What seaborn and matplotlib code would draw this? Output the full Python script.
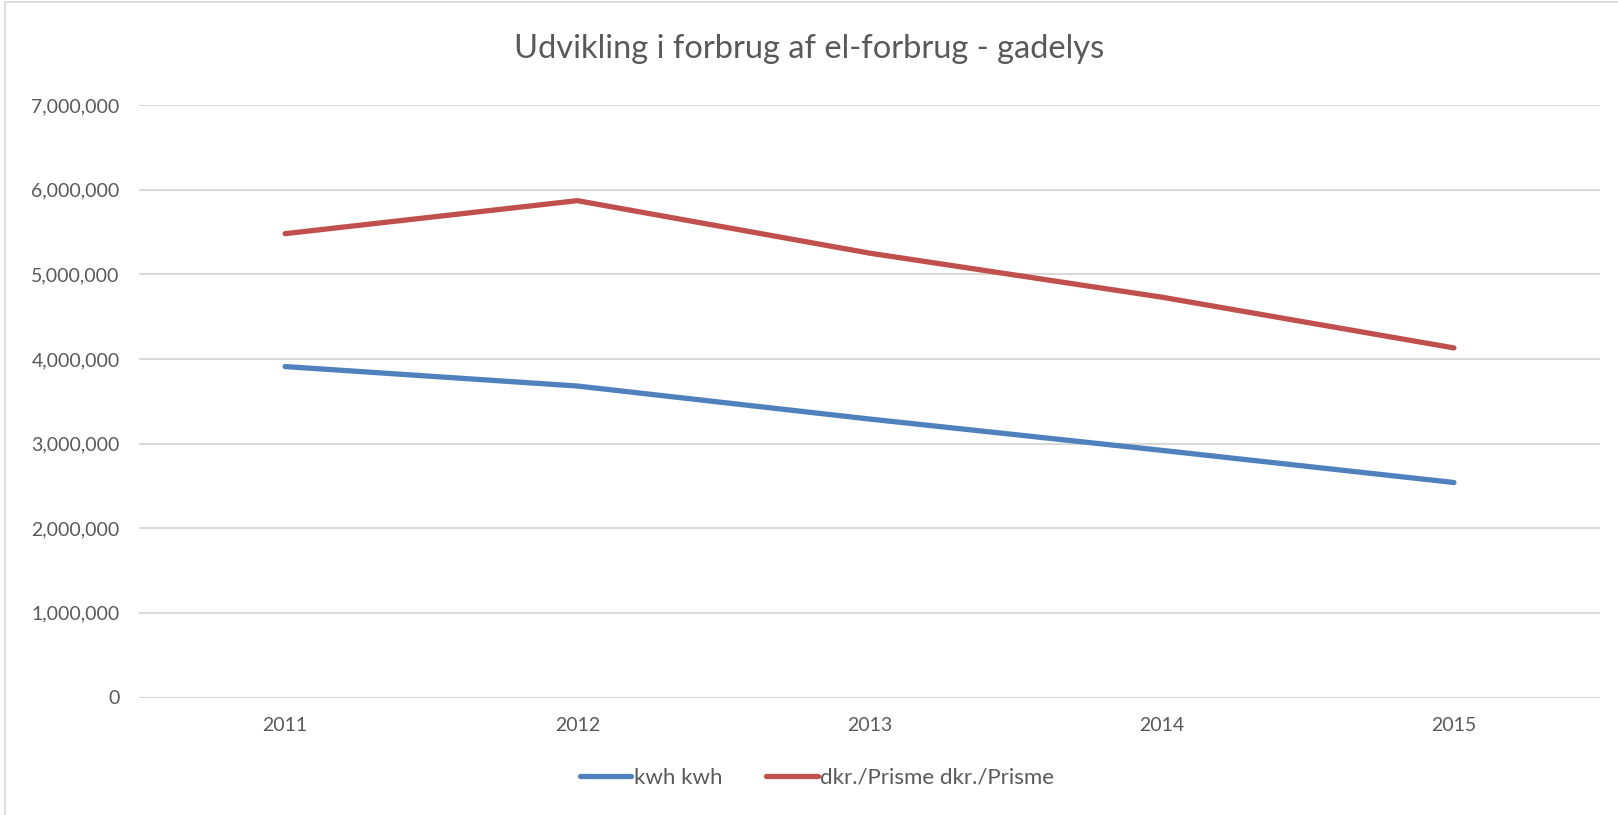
import matplotlib
matplotlib.use("Agg")
import matplotlib.pyplot as plt
import matplotlib.ticker as mticker
from matplotlib.patches import Rectangle
from matplotlib.lines import Line2D
import seaborn as sns
import pandas as pd

years = ["2011", "2012", "2013", "2014", "2015"]
kwh = [3910000, 3680000, 3290000, 2920000, 2540000]
dkr = [5480000, 5870000, 5250000, 4730000, 4130000]
series_names = ["kwh kwh", "dkr./Prisme dkr./Prisme"]
yticks = [0, 1000000, 2000000, 3000000, 4000000, 5000000, 6000000, 7000000]
title = "Udvikling i forbrug af el-forbrug - gadelys"

df = pd.DataFrame({
    "year": years * 2,
    "value": kwh + dkr,
    "series": [series_names[0]] * len(years) + [series_names[1]] * len(years),
})

sns.set_theme(style="white")
plt.rcParams["font.family"] = ["Lato", "DejaVu Sans"]
txt = "#595959"
colors = ["#4F81BD", "#C0504D"]

fig = plt.figure(figsize=(16.18, 8.15), dpi=100)
ax = fig.add_axes([139 / 1618, 1 - 697.5 / 815, (1600 - 139) / 1618, (697.5 - 105) / 815])

sns.lineplot(data=df, x="year", y="value", hue="series",
             palette=colors, linewidth=3.8, ax=ax,
             legend=False, solid_capstyle="round", sort=False)

ax.set_xlim(-0.5, 4.5)
ax.set_ylim(0, 7000000)
ax.set_yticks(yticks)
ax.yaxis.set_major_formatter(mticker.FuncFormatter(lambda v, p: f"{int(v):,}"))
ax.grid(axis="y", color="#D9D9D9", linewidth=1.5)
ax.set_axisbelow(True)
for s in ax.spines.values():
    s.set_visible(False)
ax.tick_params(axis="both", length=0, labelsize=14, labelcolor=txt)
ax.tick_params(axis="y", pad=14)
ax.tick_params(axis="x", pad=14)
ax.set_xlabel("")
ax.set_ylabel("")

fig.text(0.5, 1 - 49 / 815, title, ha="center", va="center", fontsize=23.5, color=txt)

handles = [Line2D([0], [0], color=c, lw=3.8, solid_capstyle="round") for c in colors]
fig.legend(handles, series_names, loc="center", bbox_to_anchor=(817 / 1618, 1 - 778 / 815),
           ncol=2, frameon=False, fontsize=16, labelcolor=txt, handlelength=2.3,
           handletextpad=0.1, columnspacing=2.0)

fig.add_artist(Rectangle((5 / 1618, -0.01), 1.1, 1 - 2 / 815 + 0.01, transform=fig.transFigure,
                         fill=False, edgecolor="#D9D9D9", linewidth=1.2))

fig.savefig("out.png", dpi=100, facecolor="white")
